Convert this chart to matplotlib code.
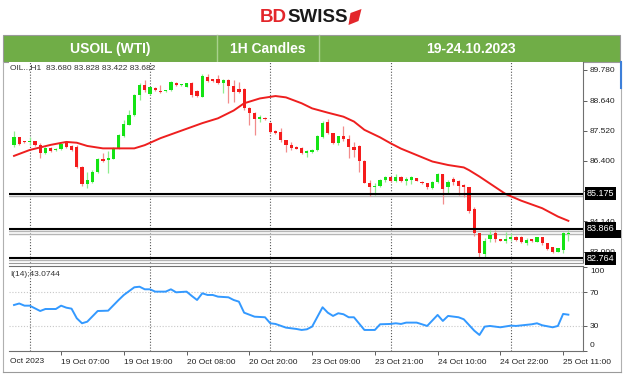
import numpy as np
import matplotlib.pyplot as plt
from matplotlib.patches import Rectangle, Polygon
from matplotlib.transforms import blended_transform_factory

W, H = 624, 376

# hourly candles, bar 0 .. 106
opens = [86.99, 87.27, 87.12, 87.08, 87.12, 86.99, 86.68, 86.86, 86.81, 86.82,
         87.05, 86.95, 86.90, 86.15, 85.53, 85.62, 85.99, 86.48, 86.43, 86.48,
         86.85, 87.32, 87.73, 88.10, 88.84, 89.21, 88.89, 89.11, 89.00, 88.99,
         89.04, 89.31, 89.21, 89.16, 89.28, 89.01, 88.79, 89.53, 89.43, 89.46,
         89.28, 89.41, 89.18, 89.06, 89.06, 88.35, 88.17, 87.97, 88.00, 87.79,
         87.52, 87.46, 87.17, 86.99, 86.92, 86.86, 86.70, 86.74, 86.80, 87.27,
         87.85, 87.42, 87.05, 87.32, 87.20, 86.92, 86.95, 86.40, 85.58, 85.43,
         85.46, 85.68, 85.78, 85.66, 85.78, 85.66, 85.68, 85.74, 85.62, 85.56,
         85.37, 85.62, 85.91, 85.41, 85.71, 85.64, 85.50, 85.41, 84.59, 83.69,
         82.92, 83.47, 83.69, 83.47, 83.42, 83.50, 83.55, 83.55, 83.35, 83.47,
         83.38, 83.55, 83.32, 83.17, 83.01, 83.07, 83.680]
highs = [87.52, 87.30, 87.15, 87.27, 87.15, 87.05, 86.92, 86.90, 86.86, 87.05,
         87.11, 86.99, 86.99, 86.20, 85.99, 86.05, 86.51, 86.68, 86.78, 86.90,
         87.38, 87.92, 88.29, 88.88, 89.28, 89.41, 89.16, 89.13, 89.21, 89.04,
         89.36, 89.33, 89.25, 89.31, 89.34, 89.04, 89.62, 89.63, 89.46, 89.60,
         89.43, 89.43, 89.41, 89.35, 89.10, 88.41, 88.23, 88.10, 88.03, 87.86,
         87.55, 87.61, 87.19, 87.11, 86.95, 86.90, 86.80, 86.82, 87.35, 87.89,
         87.94, 87.44, 87.32, 87.69, 87.36, 87.11, 86.99, 86.43, 85.68, 85.56,
         85.71, 85.83, 85.81, 85.91, 85.83, 85.78, 85.83, 85.76, 85.64, 85.58,
         85.64, 85.96, 85.91, 85.68, 85.78, 85.68, 85.53, 85.43, 84.69, 83.72,
         83.51, 83.82, 83.82, 83.49, 83.76, 83.72, 83.60, 83.60, 83.51, 83.49,
         83.57, 83.57, 83.34, 83.20, 83.16, 83.76, 83.828]
lows = [86.90, 86.99, 87.07, 86.99, 86.95, 86.49, 86.65, 86.74, 86.78, 86.80,
        86.86, 86.78, 86.12, 85.46, 85.37, 85.58, 85.96, 86.37, 85.96, 86.45,
        86.82, 87.30, 87.73, 88.08, 88.66, 88.97, 88.85, 89.00, 88.91, 88.97,
        89.01, 89.19, 89.18, 89.13, 88.79, 88.78, 88.76, 89.34, 89.32, 89.26,
        88.91, 88.54, 88.60, 88.91, 88.29, 87.73, 87.36, 87.86, 87.92, 87.42,
        87.40, 87.11, 86.74, 86.80, 86.82, 86.65, 86.55, 86.70, 86.78, 87.23,
        87.38, 87.04, 86.99, 87.15, 86.49, 86.55, 85.99, 85.56, 85.09, 85.12,
        85.43, 85.62, 85.62, 85.62, 85.62, 85.50, 85.53, 85.63, 85.53, 85.33,
        85.35, 85.58, 84.79, 85.16, 85.50, 85.12, 85.06, 84.44, 83.60, 82.76,
        82.76, 83.38, 83.38, 83.40, 83.32, 83.42, 83.42, 83.35, 83.26, 83.38,
        83.36, 83.26, 83.08, 82.95, 83.00, 82.97, 83.422]
closes = [87.27, 87.02, 87.10, 87.14, 86.97, 86.68, 86.86, 86.78, 86.83, 87.02,
          86.90, 86.80, 86.15, 85.53, 85.68, 85.99, 86.45, 86.40, 86.51, 86.85,
          87.35, 87.77, 88.12, 88.84, 89.21, 89.04, 89.13, 89.04, 88.96, 89.01,
          89.33, 89.22, 89.22, 89.28, 88.85, 88.81, 89.57, 89.38, 89.36, 89.31,
          89.41, 89.18, 88.97, 88.95, 88.35, 88.17, 87.94, 88.02, 87.94, 87.48,
          87.42, 87.17, 86.99, 86.86, 86.85, 86.70, 86.78, 86.80, 87.32, 87.82,
          87.42, 87.07, 87.32, 87.20, 86.92, 86.80, 86.40, 85.58, 85.41, 85.46,
          85.68, 85.78, 85.66, 85.81, 85.66, 85.73, 85.78, 85.66, 85.56, 85.41,
          85.62, 85.91, 85.33, 85.62, 85.62, 85.46, 85.41, 84.54, 83.69, 82.95,
          83.42, 83.63, 83.47, 83.42, 83.50, 83.55, 83.45, 83.38, 83.45, 83.40,
          83.55, 83.32, 83.10, 83.01, 83.14, 83.72, 83.682]

# moving average (red line), points read at bar positions
ma_bar = [0, 3, 7, 10, 12, 14, 17, 20, 23, 25, 28, 32, 36, 39, 42, 44, 47, 50,
          52, 55, 57, 60, 63, 65, 67, 70, 72, 74, 77, 80, 83, 86, 87, 89, 92,
          94, 97, 101, 104, 106]
ma_val = [86.58, 86.80, 86.99, 87.10, 87.07, 86.95, 86.86, 86.86, 86.86, 86.98,
          87.24, 87.52, 87.80, 87.98, 88.27, 88.54, 88.72, 88.81, 88.76, 88.54,
          88.35, 88.19, 88.04, 87.86, 87.55, 87.27, 87.05, 86.85, 86.61, 86.37,
          86.24, 86.15, 86.05, 85.81, 85.42, 85.16, 84.91, 84.63, 84.32, 84.16]

# RSI(14)
rsi_bar = [0, 1, 2, 3, 5, 6, 8, 9, 10, 11, 12, 13, 14, 16, 18, 20, 21, 23, 24,
           25, 26, 27, 29, 30, 31, 33, 34, 35, 36, 37, 38, 39, 41, 42, 43, 44,
           46, 48, 49, 50, 52, 54, 55, 56, 57, 59, 60, 61, 62, 63, 64, 65, 67,
           69, 70, 72, 73, 74, 75, 77, 79, 81, 82, 83, 85, 86, 88, 89, 90, 91,
           93, 95, 96, 99, 100, 101, 103, 104, 105, 106]
rsi_val = [54.7, 56.5, 53.9, 53.9, 47.5, 49.9, 49.9, 53.9, 51.5, 50.3, 38.8,
           32.8, 34.7, 47.5, 47.9, 60.7, 66.7, 75.9, 76.6, 73.5, 73.5, 70.7,
           70.7, 73.5, 69.9, 70.7, 65.5, 60.7, 68.7, 66.7, 66.7, 64.7, 63.9,
           60.7, 58.7, 45.5, 40.7, 40.0, 32.8, 32.0, 27.6, 26.0, 24.8, 25.6,
           28.8, 52.0, 45.5, 41.6, 44.8, 43.6, 40.0, 40.0, 24.8, 24.8, 31.6,
           32.0, 32.8, 32.0, 33.6, 33.6, 29.6, 42.8, 35.6, 41.6, 40.0, 37.6,
           24.0, 18.8, 28.8, 29.6, 28.0, 30.0, 29.6, 31.6, 32.8, 30.4, 28.0,
           29.6, 44.0, 43.1]

levels = [85.175, 83.866, 82.764]
bid = 83.682
price_ticks = [89.780, 88.640, 87.520, 86.400, 85.280, 84.140, 83.000]
grid_bars = [3, 26, 49, 72, 95]
time_bars = [9, 21, 33, 45, 57, 69, 81, 93, 105]
time_labels = ['19 Oct 07:00', '19 Oct 19:00', '20 Oct 08:00', '20 Oct 20:00',
               '23 Oct 09:00', '23 Oct 21:00', '24 Oct 10:00', '24 Oct 22:00',
               '25 Oct 11:00']

plt.rcParams['font.family'] = ['Liberation Sans', 'DejaVu Sans']

fig = plt.figure(figsize=(W / 100, H / 100), dpi=100)


def box(x0, y0, x1, y1):
    return [x0 / W, 1 - y1 / H, (x1 - x0) / W, (y1 - y0) / H]


# background layer: logo, header bar, frame
bg = fig.add_axes([0, 0, 1, 1])
bg.set_xlim(0, W)
bg.set_ylim(H, 0)
bg.axis('off')

t1 = bg.text(260, 17, 'BD', color='#e3262b', fontsize=13.5, fontweight='bold',
             va='center', ha='left')
fig.canvas.draw()
bd_right = t1.get_window_extent().x1
t2 = bg.text(bd_right, H - 17, 'SWISS', color='#1a1a1a', fontsize=13.5,
             fontweight='bold', va='center', ha='left', transform=None)
fig.canvas.draw()
sx = t2.get_window_extent().x1
bg.add_patch(Polygon([(sx + 1, 25), (sx + 3, 13), (sx + 14, 9), (sx + 11, 21)],
                     closed=True, fc='#e3262b', ec='none'))

bg.add_patch(Rectangle((3, 35), 617, 27, fc='#70ad47', ec='#9a9a9a', lw=0.8))
for xd in [217, 319]:
    bg.plot([xd, xd], [35, 62], color='#a9d18e', lw=1)
bg.text(110, 49, 'USOIL (WTI)', color='white', fontsize=10, fontweight='bold',
        ha='center', va='center')
bg.text(268, 49, '1H Candles', color='white', fontsize=10, fontweight='bold',
        ha='center', va='center')
bg.text(471, 49, '19-24.10.2023', color='white', fontsize=10,
        fontweight='bold', ha='center', va='center')

# outer frame
bg.plot([3, 3], [62, 372], color='#b0b0b0', lw=0.8)
bg.plot([621, 621], [62, 372], color='#b0b0b0', lw=0.8)
bg.plot([3, 621], [372, 372], color='#9a9a9a', lw=0.8)
bg.plot([621, 621], [62, 88], color='#3d7fd9', lw=1.5)

# price pane and RSI pane
ax = fig.add_axes(box(9, 62, 583, 263))
ar = fig.add_axes(box(9, 266, 583, 351), sharex=ax)

n = len(opens)
xb = np.arange(n)
o = np.array(opens)
c = np.array(closes)
hi = np.array(highs)
lo = np.array(lows)
up = c >= o

ax.vlines(xb[up], lo[up], hi[up], color='#8ded8d', lw=0.9, zorder=2)
ax.vlines(xb[~up], lo[~up], hi[~up], color='#f28c8c', lw=0.9, zorder=2)
bottom = np.minimum(o, c)
height = np.maximum(np.abs(c - o), 0.03)
ax.bar(xb[up], height[up], bottom=bottom[up], width=0.62, color='#14e314',
       lw=0, zorder=3)
ax.bar(xb[~up], height[~up], bottom=bottom[~up], width=0.62, color='#f51c1c',
       lw=0, zorder=3)

ax.plot(ma_bar, ma_val, color='#ee1f1f', lw=1.4, zorder=4)

for lv in levels:
    ax.axhline(lv - 0.075, color='#b5b5b5', lw=1.0, zorder=1)
    ax.axhline(lv, color='black', lw=1.5, zorder=5)
ax.axhline(bid, color='#b5b5b5', lw=1.0, zorder=1)

for gb in grid_bars:
    ax.axvline(gb, color='#555555', lw=0.8, ls=(0, (1, 1.6)), zorder=0)
    ar.axvline(gb, color='#555555', lw=0.8, ls=(0, (1, 1.6)), zorder=0)

ax.set_xlim(-0.96, 108.8)
ax.set_ylim(82.589, 90.078)
ax.yaxis.tick_right()
ax.set_yticks(price_ticks)
# 85.280 sits under the 85.175 level tag
ax.set_yticklabels(['' if abs(v - 85.28) < 0.01 else '%.3f' % v
                    for v in price_ticks])
ax.tick_params(axis='y', length=3, width=0.6, color='#444444', labelsize=6,
               pad=1.5, labelcolor='#222222')
ax.tick_params(axis='x', bottom=False, labelbottom=False)
for s in ['top', 'left']:
    ax.spines[s].set_visible(False)
ax.spines['right'].set_color('#707070')
ax.spines['bottom'].set_color('#9a9a9a')
ax.spines['bottom'].set_linewidth(0.8)

tr = blended_transform_factory(ax.transAxes, ax.transData)
# bid tag, almost hidden behind the 83.866 tag
ax.add_patch(Rectangle((1.004, bid - 0.16), 0.062, 0.30, transform=tr,
                       fc='black', ec='none', clip_on=False, zorder=9))
lab_kw = dict(transform=tr, fontsize=6.5, va='center', ha='left',
              color='white', clip_on=False, zorder=10,
              bbox=dict(boxstyle='square,pad=0.2', fc='black', ec='none'))
for lv in levels:
    ax.text(1.006, lv, '%.3f' % lv, **lab_kw)

ax.text(0.002, 0.97, 'OIL..,H1  83.680 83.828 83.422 83.682',
        transform=ax.transAxes, fontsize=6, color='#333333', va='center',
        ha='left')

ar.plot(rsi_bar, rsi_val, color='#3399ff', lw=1.4)
for g in [30, 70]:
    ar.axhline(g, color='#c8c8c8', lw=0.8, ls=(0, (1, 1.6)), zorder=0)
ar.set_ylim(-0.4, 101.4)
ar.yaxis.tick_right()
ar.set_yticks([0, 30, 70, 100])
ar.set_yticklabels(['', '30', '70', ''])
ar.tick_params(axis='y', length=3, width=0.6, color='#444444', labelsize=6,
               pad=1.5, labelcolor='#222222')
rtr = ar.get_yaxis_transform()
ar.text(1.012, 99, '100', transform=rtr, fontsize=6, va='top', ha='left',
        color='#222222')
ar.text(1.012, 1.5, '0', transform=rtr, fontsize=6, va='bottom', ha='left',
        color='#222222')
ar.text(0.002, 0.9, 'I(14);43.0744', transform=ar.transAxes, fontsize=6,
        color='#333333', va='center', ha='left')

ar.set_xticks(time_bars)
ar.set_xticklabels(time_labels)
for lab in ar.get_xticklabels():
    lab.set_ha('left')
ar.tick_params(axis='x', length=3, width=0.6, color='#444444', labelsize=6,
               pad=3, labelcolor='#222222')
ar.text(0.001, -0.08, 'Oct 2023', transform=ar.transAxes, fontsize=6,
        color='#222222', va='top', ha='left')
ar.spines['left'].set_visible(False)
for s in ['top', 'right', 'bottom']:
    ar.spines[s].set_color('#707070')
    ar.spines[s].set_linewidth(0.8)

fig.savefig('out.png', dpi=100)
